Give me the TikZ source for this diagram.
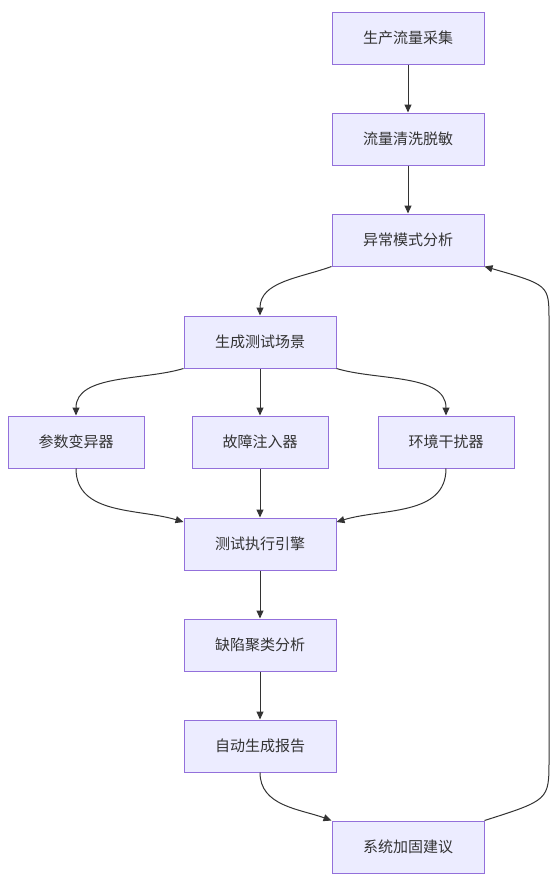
\documentclass[tikz,border=0pt]{standalone}
\usepackage{fontspec}
\setmainfont{Noto Sans CJK SC}
\usepackage{xcolor}
\usetikzlibrary{arrows.meta}
\definecolor{boxfill}{HTML}{ECECFF}
\definecolor{boxline}{HTML}{9370DB}
\definecolor{edgeline}{HTML}{333333}
\begin{document}
\begin{tikzpicture}[x=1pt,y=-1pt,>={Triangle[length=8pt,width=7pt]},
box/.style={draw=boxline,fill=boxfill,line width=1pt,minimum width=152pt,minimum height=52pt,
text=edgeline,font=\fontsize{15}{18}\selectfont,inner sep=0pt},
sbox/.style={box,minimum width=136pt},
edge/.style={->,draw=edgeline,line width=1pt}]
\useasboundingbox(0,0)rectangle(559,886);
\node[box](cap)at(408,38){生产流量采集};
\node[box](clean)at(408,139){流量清洗脱敏};
\node[box](anom)at(408,240){异常模式分析};
\node[box](gen)at(260,342){生成测试场景};
\node[sbox](mut)at(76,442){参数变异器};
\node[sbox](fault)at(260,442){故障注入器};
\node[sbox](env)at(446,442){环境干扰器};
\node[box](exec)at(260,544){测试执行引擎};
\node[box](clus)at(260,645){缺陷聚类分析};
\node[box](rep)at(260,746){自动生成报告};
\node[box](hard)at(408,847){系统加固建议};
\coordinate(up1)at(549,760);
\coordinate(up2)at(549,320);
\draw[edge](cap)--(clean);
\draw[edge](clean)--(anom);
\draw[edge](anom.south west)to[out=200,in=90](gen.north);
\draw[edge](gen.south west)to[out=197,in=90,looseness=0.9](mut.north);
\draw[edge](gen)--(fault);
\draw[edge](gen.south east)to[out=-17,in=90,looseness=0.9](env.north);
\draw[edge](mut.south)to[out=-90,in=163](exec.north west|-0,522);
\draw[edge](fault)--(exec);
\draw[edge](env.south)to[out=-90,in=17](exec.north east|-0,522);
\draw[edge](exec)--(clus);
\draw[edge](clus)--(rep);
\draw[edge](rep.south)to[out=-90,in=160](hard.north west);
\draw[edge](hard.north east)..controls(549,800)..(up1)--(up2)..controls(549,285)..(anom.south east);
\end{tikzpicture}
\end{document}
